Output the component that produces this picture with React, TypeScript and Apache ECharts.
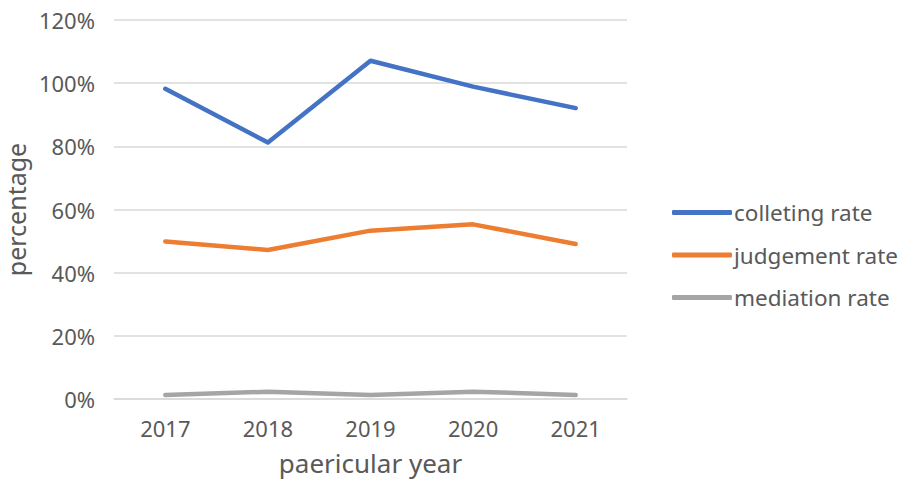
import React, { useEffect, useRef } from "react";
import * as echarts from "echarts";

const years = ["2017", "2018", "2019", "2020", "2021"];
const colletingRate = [98.2, 81.2, 107.1, 98.9, 92.1];
const judgementRate = [49.9, 47.2, 53.3, 55.3, 49.1];
const mediationRate = [1.3, 2.3, 1.3, 2.3, 1.3];
const seriesNames = ["colleting rate", "judgement rate", "mediation rate"];
const colors = ["#4472C4", "#ED7D31", "#A5A5A5"];

const FONT = "'Noto Sans', 'Open Sans', sans-serif";

export default function App() {
  const ref = useRef<HTMLDivElement>(null);
  useEffect(() => {
    if (!ref.current) return;
    const chart = echarts.init(ref.current, null, { renderer: "svg" });
    const mk = (name: string, data: number[], color: string) => ({
      name,
      type: "line",
      data,
      symbol: "none",
      lineStyle: { width: 4.5, color, cap: "round", join: "round" },
      itemStyle: { color },
    });
    chart.setOption({
      animation: false,
      backgroundColor: "#ffffff",
      textStyle: { fontFamily: FONT },
      grid: { left: 114, right: 275, top: 20, bottom: 84, outerBoundsMode: "none", containLabel: false },
      legend: {
        orient: "vertical",
        left: 667,
        top: 196,
        itemWidth: 60,
        itemHeight: 5,
        itemGap: 19.5,
        icon: "roundRect",
        textStyle: { fontSize: 22.5, color: "#595959", fontFamily: FONT, padding: [0, 0, 0, -3] },
        data: seriesNames,
      },
      xAxis: {
        type: "category",
        data: years,
        boundaryGap: true,
        name: "paericular year",
        nameLocation: "middle",
        nameGap: 51,
        nameTextStyle: { fontSize: 26, color: "#595959", fontFamily: FONT },
        axisLine: { lineStyle: { color: "#D9D9D9", width: 1.5 } },
        axisTick: { show: false },
        axisLabel: { fontSize: 22, color: "#595959", margin: 18, fontFamily: FONT },
      },
      yAxis: {
        type: "value",
        min: 0,
        max: 120,
        interval: 20,
        name: "percentage",
        nameLocation: "middle",
        nameGap: 80,
        nameTextStyle: { fontSize: 25, color: "#595959", fontFamily: FONT },
        axisLine: { show: false },
        axisTick: { show: false },
        axisLabel: { fontSize: 22, color: "#595959", margin: 19, formatter: "{value}%", fontFamily: FONT },
        splitLine: { lineStyle: { color: "#D9D9D9", width: 1.5 } },
      },
      series: [
        mk(seriesNames[0], colletingRate, colors[0]),
        mk(seriesNames[1], judgementRate, colors[1]),
        mk(seriesNames[2], mediationRate, colors[2]),
      ],
    });
    return () => chart.dispose();
  }, []);
  return <div ref={ref} style={{ width: 902, height: 483, position: "absolute", left: 0, top: 0 }} />;
}
